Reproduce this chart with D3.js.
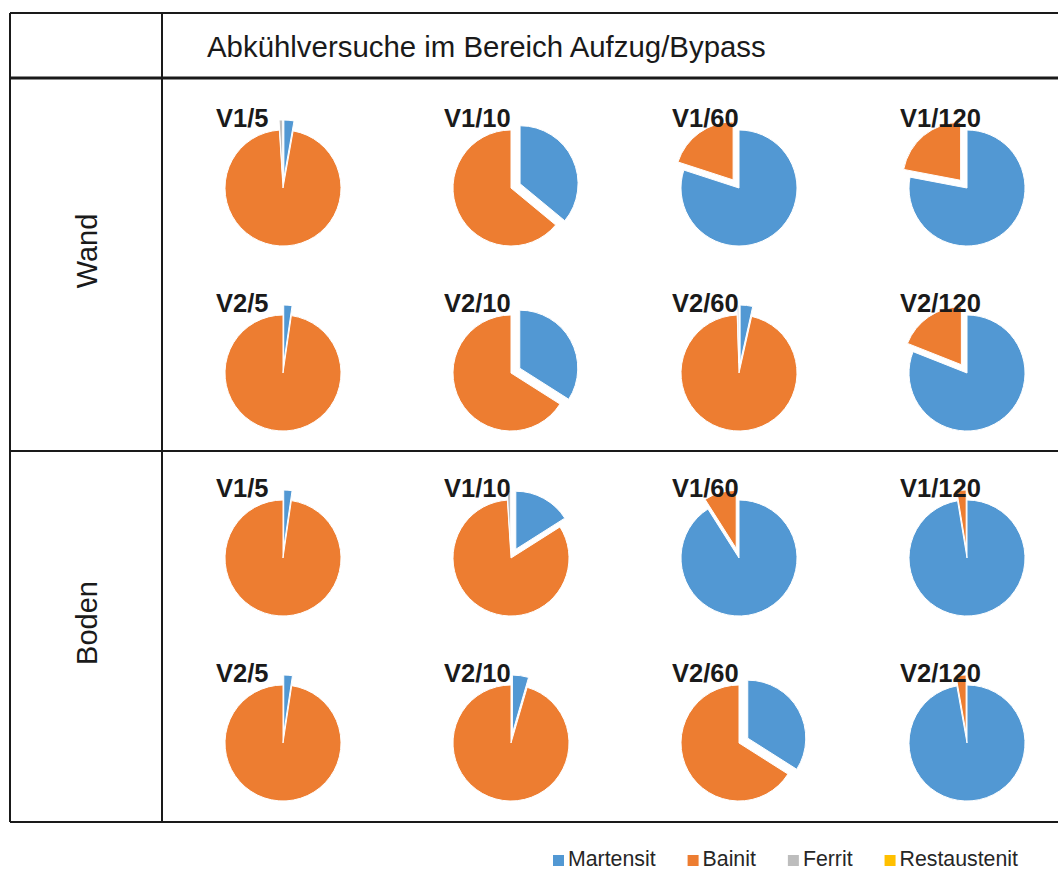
<!DOCTYPE html>
<html>
<head>
<meta charset="utf-8">
<script src="https://cdn.jsdelivr.net/npm/d3@7"></script>
<style>
  html, body { margin: 0; padding: 0; background: #fff; }
  svg { display: block; font-family: "Liberation Sans", Arial, sans-serif; }
</style>
</head>
<body>
<svg id="chart" width="1058" height="871"></svg>
<script>
// Phasenanteile (%) der Abkühlversuche, Reihenfolge je Liste:
// Wand V1, Wand V2, Boden V1, Boden V2 – jeweils 5, 10, 60, 120
const sections = ["Wand", "Boden"];
const trials = ["V1", "V2"];
const coolingTimes = ["5", "10", "60", "120"];
const phases = ["Martensit", "Bainit", "Ferrit", "Restaustenit"];
const martensit    = [2.8, 36, 80, 78,   2.3, 34, 3.5, 81,   2.3, 16, 91, 97.4,   2.4, 4.5, 34, 97.2];
const bainit       = [96.2, 64, 20, 22,  97.7, 66, 96, 19,   97.7, 83, 9, 2.6,    97.6, 95.5, 66, 2.8];
const ferrit       = [1.0, 0, 0, 0,      0, 0, 0.5, 0,       0, 1, 0, 0,          0, 0, 0, 0];
const restaustenit = [0, 0, 0, 0,        0, 0, 0, 0,         0, 0, 0, 0,          0, 0, 0, 0];
const title = "Abkühlversuche im Bereich Aufzug/Bypass";

const phaseValues = [martensit, bainit, ferrit, restaustenit];
const color = d3.scaleOrdinal()
  .domain(phases)
  .range(["#5298D3", "#ED7D31", "#BDBDBD", "#FFC000"]);

const svg = d3.select("#chart");
svg.append("rect").attr("width", 1058).attr("height", 871).attr("fill", "#fff");

// Tabellenraster
const grid = svg.append("g").attr("stroke", "#1a1a1a").attr("fill", "none");
const L = 10, R = 1058, T = 13, H = 78, M = 451, B = 822, V = 162;
[[L, T, R, T, 2], [L, H, R, H, 3], [L, M, R, M, 2], [L, B, R, B, 2],
 [L, T, L, B, 2], [V, T, V, B, 2]].forEach(([x1, y1, x2, y2, w]) => {
  grid.append("line").attr("x1", x1).attr("y1", y1).attr("x2", x2).attr("y2", y2)
    .attr("stroke-width", w);
});

svg.append("text")
  .attr("x", 207).attr("y", 57)
  .attr("font-size", 29.4).attr("fill", "#1a1a1a")
  .text(title);

// Zeilenbeschriftungen (gedreht)
const sectionY = d3.scalePoint().domain(sections).range([251, 623]);
svg.selectAll("text.section").data(sections).join("text")
  .attr("class", "section")
  .attr("transform", d => `translate(87,${sectionY(d)}) rotate(-90)`)
  .attr("text-anchor", "middle").attr("dominant-baseline", "central")
  .attr("font-size", 29).attr("fill", "#1a1a1a")
  .text(d => d);

// Tortendiagramme
const rowKeys = [];
sections.forEach(s => trials.forEach(t => rowKeys.push(s + "|" + t)));
const x = d3.scalePoint().domain(coolingTimes).range([283, 967]);
const y = d3.scalePoint().domain(rowKeys).range([188, 743]);
const radius = 58, explode = 10;

const pie = d3.pie().sort(null).value(d => d.value);
const arc = d3.arc().innerRadius(0).outerRadius(radius);

const panels = [];
rowKeys.forEach((rk, ri) => {
  coolingTimes.forEach((ct, ci) => {
    const i = ri * coolingTimes.length + ci;
    panels.push({
      row: rk, time: ct,
      label: rk.split("|")[1] + "/" + ct,
      slices: phases.map((p, k) => ({ phase: p, value: phaseValues[k][i] }))
    });
  });
});

panels.forEach(p => {
  const g = svg.append("g")
    .attr("transform", `translate(${x(p.time)},${y(p.row)})`);
  const arcs = pie(p.slices).filter(a => a.data.value > 0);
  const maxVal = d3.max(arcs, a => a.data.value);
  g.selectAll("path").data(arcs).join("path")
    .attr("d", arc)
    .attr("fill", a => color(a.data.phase))
    .attr("stroke", "#fff").attr("stroke-width", 1)
    .attr("transform", a => {
      if (a.data.value === maxVal) return null;
      const mid = (a.startAngle + a.endAngle) / 2;
      return `translate(${Math.sin(mid) * explode},${-Math.cos(mid) * explode})`;
    });
  g.append("text")
    .attr("x", -67).attr("y", -61)
    .attr("font-size", 25.5).attr("font-weight", "bold").attr("fill", "#1a1a1a")
    .text(p.label);
});

// Legende
const legend = svg.append("g").attr("transform", "translate(553,866)");
let lx = 0;
phases.forEach(p => {
  const item = legend.append("g").attr("transform", `translate(${lx},0)`);
  item.append("rect").attr("x", 0).attr("y", -11).attr("width", 11).attr("height", 11)
    .attr("fill", color(p));
  const t = item.append("text").attr("x", 15).attr("y", 0)
    .attr("font-size", 21.3).attr("fill", "#262626").text(p);
  lx += 15 + t.node().getComputedTextLength() + 32;
});
</script>
</body>
</html>
